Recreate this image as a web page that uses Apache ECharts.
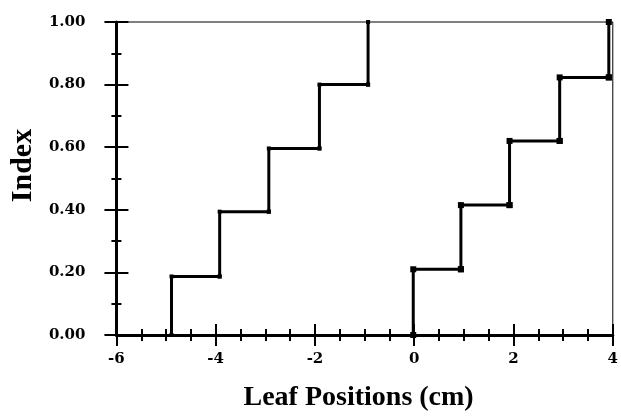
<!DOCTYPE html>
<html>
<head>
<meta charset="utf-8">
<script src="https://cdn.jsdelivr.net/npm/echarts@6/dist/echarts.min.js"></script>
<style>
html,body{margin:0;padding:0;background:#fff;}
#chart{width:621px;height:417px;}
</style>
</head>
<body>
<div id="chart"></div>
<script>
// x positions of the steps and index levels
var leftStepX = [-4.89, -3.92, -2.93, -1.91, -0.93];
var leftLevels = [0, 0.187, 0.394, 0.596, 0.80, 1.00];
var rightStepX = [-0.02, 0.94, 1.92, 2.93, 3.92];
var rightLevels = [0, 0.21, 0.415, 0.62, 0.823, 1.00];
var xTicks = ['-6', '-4', '-2', '0', '2', '4'];
var yTicks = ['0.00', '0.20', '0.40', '0.60', '0.80', '1.00'];

function stairs(xs, levels) {
    var pts = [];
    for (var i = 0; i < xs.length; i++) {
        pts.push([xs[i], levels[i]]);
        pts.push([xs[i], levels[i + 1]]);
        if (i + 1 < xs.length) pts.push([xs[i + 1], levels[i + 1]]);
    }
    return pts;
}

var nameFont = 'Liberation Serif';
var tickFont = 'DejaVu Serif';
var myChart = echarts.init(document.getElementById('chart'));

// two overlapping axes so ticks cross the axis line
function xAx(inside, labels) {
    return {
        type: 'value', position: 'bottom', min: -6, max: 4, interval: 2,
        axisLine: {show: labels, onZero: false, lineStyle: {color: '#000', width: 3}},
        axisTick: {show: true, inside: inside, length: 11, lineStyle: {color: '#000', width: 2}},
        minorTick: {show: true, splitNumber: 4, length: 6, lineStyle: {color: '#000', width: 2}},
        splitLine: {show: false},
        axisLabel: {show: labels, margin: 17, color: '#000', fontFamily: tickFont, fontWeight: 'bold', fontSize: 15,
            formatter: function (v) { return xTicks[Math.round((v + 6) / 2)]; }},
        name: labels ? 'Leaf Positions (cm)' : '',
        nameLocation: 'middle', nameGap: 49,
        nameTextStyle: {color: '#000', fontFamily: nameFont, fontWeight: 'bold', fontSize: 28, padding: [0, 12, 0, 0]}
    };
}
function yAx(inside, labels) {
    return {
        type: 'value', position: 'left', min: 0, max: 1, interval: 0.2,
        axisLine: {show: labels, onZero: false, lineStyle: {color: '#000', width: 3}},
        axisTick: {show: true, inside: inside, length: 12, lineStyle: {color: '#000', width: 2}},
        minorTick: {show: true, splitNumber: 2, length: 5, lineStyle: {color: '#000', width: 2}},
        splitLine: {show: false},
        axisLabel: {show: labels, margin: 31, color: '#000', fontFamily: tickFont, fontWeight: 'bold', fontSize: 15,
            formatter: function (v) { return yTicks[Math.round(v * 5)]; }},
        name: labels ? 'Index' : '',
        nameLocation: 'middle', nameGap: 78,
        nameTextStyle: {color: '#000', fontFamily: nameFont, fontWeight: 'bold', fontSize: 30, padding: [0, 0, 0, 26]}
    };
}

var option = {
    animation: false,
    grid: {left: 113, right: 2, top: 22, bottom: 76, show: true, borderColor: '#000', borderWidth: 1},
    xAxis: [xAx(true, true), xAx(false, false)],
    yAxis: [yAx(true, true), yAx(false, false)],
    series: [
        {
            type: 'line', data: stairs(leftStepX, leftLevels),
            lineStyle: {color: '#000', width: 3}, itemStyle: {color: '#000'},
            symbol: 'rect', symbolSize: 4, z: 5
        },
        {
            type: 'line', data: stairs(rightStepX, rightLevels),
            lineStyle: {color: '#000', width: 3}, itemStyle: {color: '#000'},
            symbol: 'rect', symbolSize: 6, z: 5
        }
    ]
};

myChart.setOption(option);
</script>
</body>
</html>
